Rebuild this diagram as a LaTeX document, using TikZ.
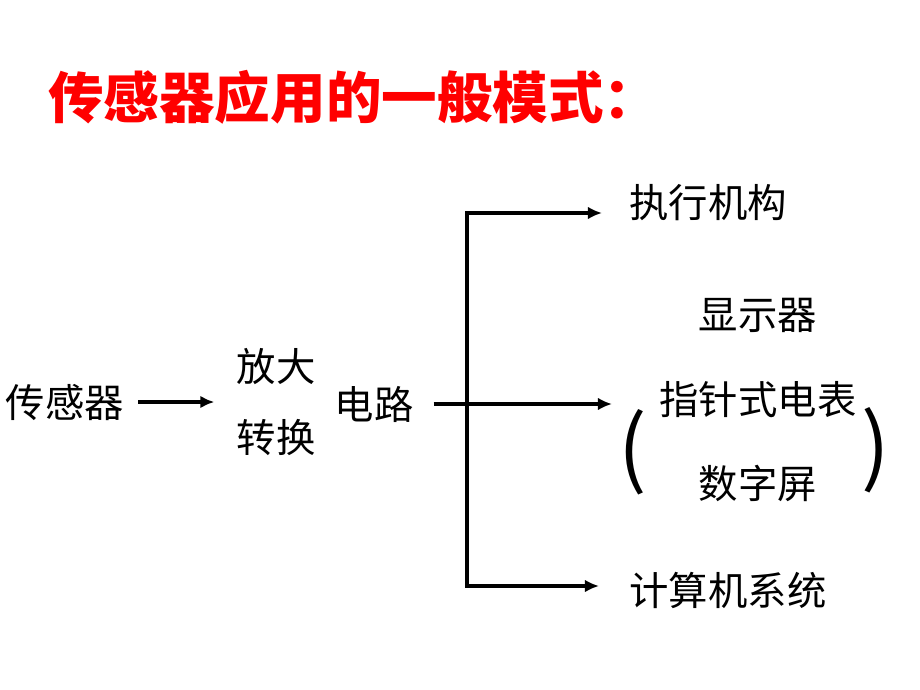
\documentclass[tikz,border=0pt]{standalone}
\usepackage{fontspec}
\usepackage{xcolor}
\usepackage{tikz}
\usetikzlibrary{calc, arrows.meta, positioning}
\newfontfamily\cjk{Noto Sans CJK SC}

\begin{document}
\begin{tikzpicture}[x=0.025cm, y=-0.025cm, >={Latex[length=10pt,width=9pt]}, font=\cjk]
	\tikzstyle{label} = [inner sep=0, align=center, font={\cjk\fontsize{28}{51}\selectfont}]
	\tikzstyle{bracket} = [inner sep=0, font={\cjk\fontsize{60}{60}\selectfont}]
	\tikzstyle{wire} = [draw=black, line width=2.8pt]

	\useasboundingbox (0, 0) rectangle (920, 690);

	\node[anchor=west, inner sep=0, text=red, font={\cjk\bfseries\fontsize{39.5}{40}\selectfont}]
		at (48, 97) (title) {传感器应用的一般模式：};

	\node[label]	at (65, 402)		(sensor)	{传感器};
	\node[label]	at (276, 402)		(amp)		{放大\\转换};
	\node[label]	at (374, 404)		(circuit)	{电路};
	\node[label]	at (708, 203)		(actuator)	{执行机构};
	\node[label, font={\cjk\fontsize{28}{60}\selectfont}]
		at (758, 400)	(display)	{显示器\\指针式电表\\数字屏};
	\node[bracket]	at (633, 452)		(lpar)		{(};
	\node[bracket]	at (876, 450)		(rpar)		{)};
	\node[label]	at (728, 590)		(computer)	{计算机系统};

	\coordinate (branch)	at (467, 404);
	\coordinate (actin)		at (602, 213);
	\coordinate (dispin)	at (612, 404);
	\coordinate (compin)	at (599, 586);

	\draw[wire, ->, shorten <=0.35cm, shorten >=0.55cm] (sensor) -- (amp);
	\draw[wire, ->, shorten <=0.5cm] (circuit) -- (dispin);
	\draw[wire, ->] (branch) |- (actin);
	\draw[wire, ->] (branch) |- (compin);

\end{tikzpicture}
\end{document}
